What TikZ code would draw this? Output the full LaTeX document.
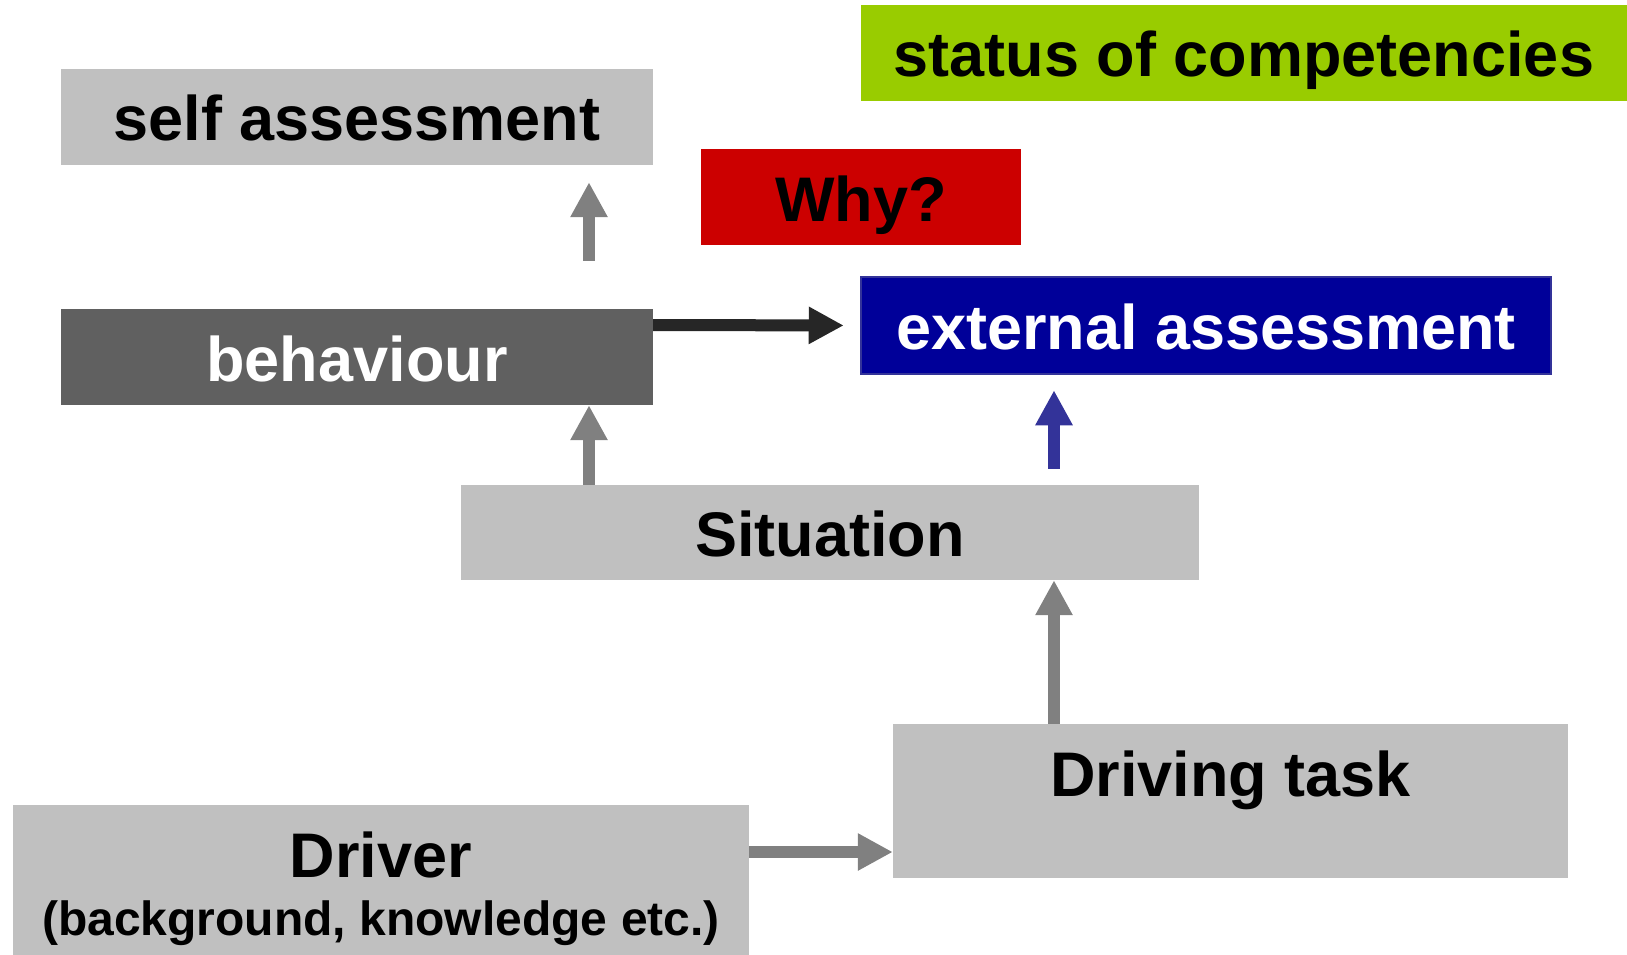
\documentclass[tikz,border=0pt]{standalone}
\usepackage{fontspec}
\setmainfont{Liberation Sans}
\usepackage{tikz}
\usetikzlibrary{arrows.meta, positioning}
\definecolor{boxgrey}{RGB}{192,192,192}
\definecolor{behavegrey}{RGB}{96,96,96}
\definecolor{whyred}{RGB}{204,0,0}
\definecolor{statusgreen}{RGB}{153,204,0}
\definecolor{extblue}{RGB}{0,0,153}
\definecolor{extborder}{RGB}{51,51,153}
\definecolor{arrowgrey}{RGB}{128,128,128}
\definecolor{arrowdark}{RGB}{38,38,38}
\tikzstyle{box} = [rectangle, inner sep=0pt, text centered, font=\bfseries\fontsize{63}{58}\selectfont]
\tikzstyle{oneline} = [text height=48pt, text depth=0pt]
\tikzstyle{greybox} = [box, fill=boxgrey, text=black]
\tikzstyle{arrow} = [line width=12pt, -{Triangle[length=35pt,width=35pt]}, color=arrowgrey]

\begin{document}
\begin{tikzpicture}[x=1pt, y=-1pt]
\useasboundingbox (0,0) rectangle (1627,955);

% Top row
\node[box, oneline, fill=statusgreen, minimum width=766pt, minimum height=96pt] (status) at (1244,53) {status of competencies};
\node[greybox, oneline, minimum width=592pt, minimum height=96pt] (self) at (357,117) {self assessment};
\node[box, oneline, fill=whyred, minimum width=320pt, minimum height=96pt] (why) at (861,197) {Why?};

% Middle row
\node[box, oneline, fill=behavegrey, text=white, minimum width=592pt, minimum height=96pt] (behaviour) at (357,357) {behaviour};
\node[box, oneline, fill=extblue, draw=extborder, line width=2.5pt, text=white, minimum width=690pt, minimum height=97pt] (external) at (1206,325.5) {external assessment};
\node[greybox, oneline, minimum width=738pt, minimum height=95pt] (situation) at (830,532.5) {Situation};

% Bottom row
\node[greybox, text height=48pt, text depth=58pt, minimum width=675pt, minimum height=154pt] (driving) at (1230.5,801) {Driving task};
\node[greybox, align=center, minimum width=736pt, minimum height=167pt] (driver) at (381,888.5) {Driver\\\fontsize{48}{58}\selectfont (background, knowledge etc.)};

% Arrows
\draw[arrow, shorten <=48pt, shorten >=17pt] ([xshift=232pt]behaviour.north) -- ([xshift=232pt]self.south);
\draw[arrow] ([xshift=-241pt]situation.north) -- ([xshift=232pt]behaviour.south);
\draw[arrow, color=arrowdark, shorten >=16pt] ([yshift=32pt]behaviour.east) -- (external.west);
\draw[arrow, color=extborder, shorten <=16pt, shorten >=15pt] ([xshift=224pt]situation.north) -- ([xshift=-152pt]external.south);
\draw[arrow] ([xshift=-176.5pt]driving.north) -- ([xshift=224pt]situation.south);
\draw[arrow] ([yshift=36.5pt]driver.east) -- ([yshift=-51pt]driving.west);

\end{tikzpicture}
\end{document}
